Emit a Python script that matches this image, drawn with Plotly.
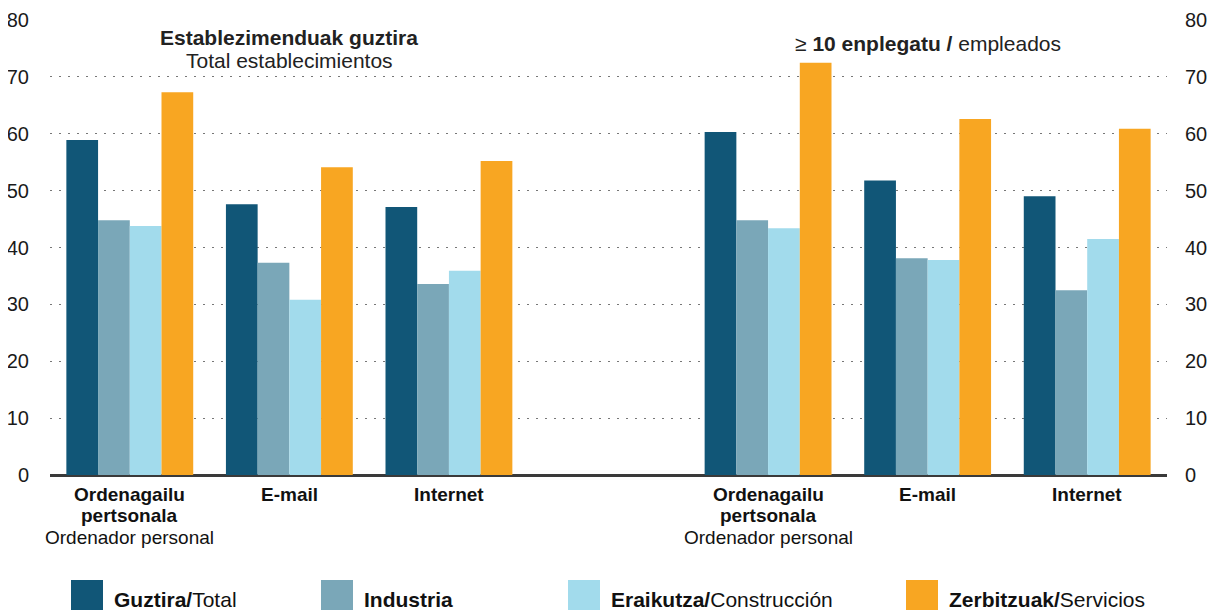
import plotly.graph_objects as go

# ---- data ----
x_pos = [0, 1, 2, 4, 5, 6]
cat_bold = [
    ["Ordenagailu", "pertsonala"],
    ["E-mail"],
    ["Internet"],
    ["Ordenagailu", "pertsonala"],
    ["E-mail"],
    ["Internet"],
]
cat_regular = ["Ordenador personal", "", "", "Ordenador personal", "", ""]
total = [58.9, 47.6, 47.1, 60.3, 51.8, 49.0]
industria = [44.8, 37.3, 33.6, 44.8, 38.1, 32.5]
construccion = [43.8, 30.8, 35.9, 43.4, 37.8, 41.5]
servicios = [67.3, 54.1, 55.2, 72.5, 62.6, 60.9]

series_names = ["<b>Guztira/</b>Total", "<b>Industria</b>",
                "<b>Eraikutza/</b>Construcción", "<b>Zerbitzuak/</b>Servicios"]
series_vals = [total, industria, construccion, servicios]
colors = ["#115677", "#7aa7b8", "#a2dbec", "#f8a622"]

y_ticks = [0, 10, 20, 30, 40, 50, 60, 70, 80]

FONT = "Arial, 'Liberation Sans', sans-serif"
OFF = 8  # page body margin
W, H = 1207, 602
ML, MR, MT, MB = 42, 48, 12, 135
pw = W - ML - MR
ph = H - MT - MB


def fx(p):  # page pixel x -> paper
    return (p - OFF - ML) / pw


def fy(p):  # page pixel y -> paper
    return (H - MB - (p - OFF)) / ph


fig = go.Figure()
for name, vals, col in zip(series_names, series_vals, colors):
    fig.add_trace(go.Bar(x=x_pos, y=vals, name=name, marker_color=col,
                         marker_line_width=0, showlegend=False))
# invisible trace for the right axis
fig.add_trace(go.Scatter(x=[0], y=[0], yaxis="y2", mode="markers",
                         marker_opacity=0, showlegend=False, hoverinfo="skip"))

fig.update_layout(
    width=W, height=H,
    margin=dict(l=ML, r=MR, t=MT, b=MB, autoexpand=False),
    paper_bgcolor="white", plot_bgcolor="white",
    barmode="group", bargap=0.205, bargroupgap=0,
    font=dict(family=FONT, color="#1a1a1a"),
    xaxis=dict(range=[-0.5, 6.5], tickvals=x_pos, showticklabels=False,
               showgrid=False, zeroline=False, showline=False, ticks="",
               automargin=False, fixedrange=True),
    yaxis=dict(range=[0, 80], tickvals=y_ticks, showgrid=True,
               gridcolor="#777", griddash="2px,7px", gridwidth=1.2,
               zeroline=True, zerolinecolor="#3a3a3a", zerolinewidth=3,
               showline=False, ticks="outside", ticklen=16,
               tickcolor="rgba(0,0,0,0)", automargin=False,
               tickfont=dict(size=20, color="#1a1a1a")),
    yaxis2=dict(range=[0, 80], tickvals=y_ticks, overlaying="y", side="right",
                showgrid=False, zeroline=False, showline=False, ticks="outside",
                ticklen=13, tickcolor="rgba(0,0,0,0)", automargin=False,
                tickfont=dict(size=20, color="#1a1a1a")),
)

# category labels (tight leading like the reference)
line_y = [494, 516, 537]
for xv, bold_lines, reg in zip(x_pos, cat_bold, cat_regular):
    lines = ["<b>%s</b>" % t for t in bold_lines] + ([reg] if reg else [])
    for i, t in enumerate(lines):
        fig.add_annotation(x=xv, y=fy(line_y[i]), xref="x", yref="paper",
                           text=t, showarrow=False, yanchor="middle",
                           font=dict(size=19, color="#111"))

# panel titles
fig.add_annotation(x=1, y=fy(38), xref="x", yref="paper",
                   text="<b>Establezimenduak guztira</b>", showarrow=False,
                   yanchor="middle", font=dict(size=21, color="#222"))
fig.add_annotation(x=1, y=fy(60), xref="x", yref="paper",
                   text="Total establecimientos", showarrow=False,
                   yanchor="middle", font=dict(size=21, color="#222"))
fig.add_annotation(x=5, y=fy(43), xref="x", yref="paper",
                   text="≥ <b>10 enplegatu /</b> empleados", showarrow=False,
                   yanchor="middle", font=dict(size=21, color="#222"))

# manual legend (big square swatches)
legend_sq = [71, 321, 568, 906]
for name, col, sx in zip(series_names, colors, legend_sq):
    fig.add_shape(type="rect", xref="paper", yref="paper",
                  x0=fx(sx), x1=fx(sx + 32), y0=fy(612), y1=fy(580),
                  fillcolor=col, line_width=0, layer="above")
    fig.add_annotation(xref="paper", yref="paper", x=fx(sx + 41), y=fy(599),
                       text=name, showarrow=False, xanchor="left", yanchor="middle",
                       font=dict(size=21, color="#111"))

fig.write_html("out.html")
